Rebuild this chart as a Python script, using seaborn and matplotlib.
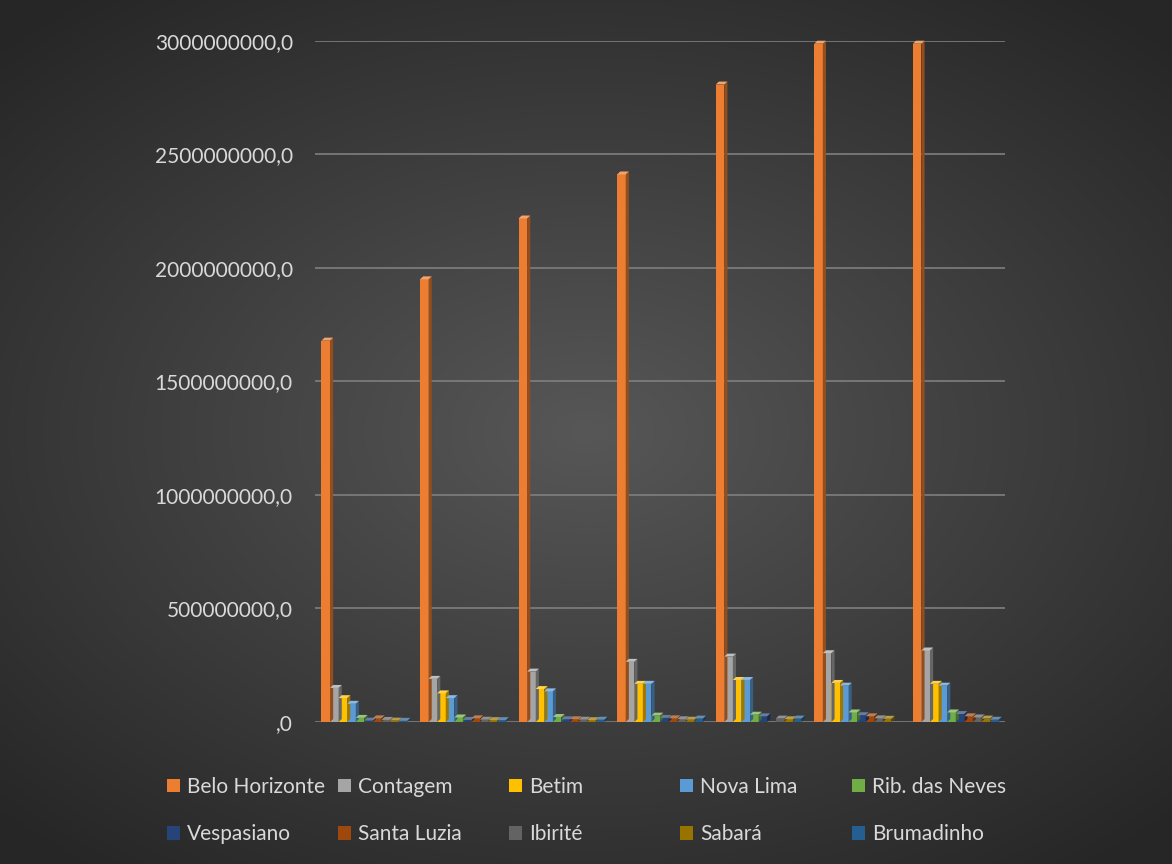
import numpy as np
import pandas as pd
import matplotlib
matplotlib.use("Agg")
import matplotlib.pyplot as plt
import seaborn as sns
from matplotlib.ticker import FuncFormatter
from matplotlib.patches import Polygon
from matplotlib.colors import to_rgb

# valores em milhões, 7 períodos (sem rótulo no eixo x)
periodos = ["1", "2", "3", "4", "5", "6", "7"]
cidades = ["Belo Horizonte", "Contagem", "Betim", "Nova Lima", "Rib. das Neves",
           "Vespasiano", "Santa Luzia", "Ibirité", "Sabará", "Brumadinho"]
belo_horizonte = [1680, 1950, 2218, 2412, 2808, 2988, 2988]
contagem = [150, 190, 222, 265, 288, 303, 315]
betim = [105, 126, 145, 168, 185, 172, 168]
nova_lima = [80, 105, 135, 168, 185, 160, 160]
rib_das_neves = [18, 20, 22, 28, 32, 42, 42]
vespasiano = [6, 9, 12, 18, 25, 30, 35]
santa_luzia = [16, 16, 12, 16, 0, 25, 25]
ibirite = [9, 10, 10, 12, 15, 16, 20]
sabara = [6, 8, 8, 10, 12, 14, 15]
brumadinho = [5, 8, 10, 15, 15, 0, 10]
cores = ["#ED7D31", "#A5A5A5", "#FFC000", "#5B9BD5", "#70AD47",
         "#264478", "#9E480E", "#636363", "#997300", "#255E91"]

series = [belo_horizonte, contagem, betim, nova_lima, rib_das_neves,
          vespasiano, santa_luzia, ibirite, sabara, brumadinho]
linhas = []
for cidade, vals in zip(cidades, series):
    for p, v in zip(periodos, vals):
        linhas.append({"Periodo": p, "Cidade": cidade, "Valor": v * 1e6})
df = pd.DataFrame(linhas)

sns.set_theme(style="dark")
plt.rcParams["font.family"] = ["Lato", "DejaVu Sans"]

fig = plt.figure(figsize=(11.72, 8.64), dpi=100)

# fundo com gradiente radial
bg = fig.add_axes([0, 0, 1, 1], zorder=-1)
yy, xx = np.mgrid[-1:1:400j, -1:1:540j]
r = np.sqrt((xx * 0.95) ** 2 + (yy * 1.05) ** 2)
r = np.clip(r / 1.35, 0, 1)
c0, c1 = np.array([0x57, 0x57, 0x57]) / 255, np.array([0x26, 0x26, 0x26]) / 255
img = c0[None, None, :] * (1 - r[..., None]) + c1[None, None, :] * r[..., None]
bg.imshow(img, aspect="auto", extent=[0, 1, 0, 1])
bg.axis("off")

ax = fig.add_axes([0.2688, 0.1644, 0.5887, 0.7882])
ax.set_facecolor("none")
sns.barplot(data=df, x="Periodo", y="Valor", hue="Cidade", palette=cores,
            width=0.87, ax=ax, saturation=1, edgecolor="none")
ax.set_ylim(0, 3e9)
ax.set_xlim(-0.5, 6.5)

# efeito 3D simples: lateral escura e topo claro
dx, dy = 0.032, 13e6
for bar in list(ax.patches):
    h = bar.get_height()
    if not h or h <= 0:
        continue
    x0, w = bar.get_x(), bar.get_width()
    c = np.array(to_rgb(bar.get_facecolor()))
    lado = Polygon([(x0 + w, 0), (x0 + w + dx, dy), (x0 + w + dx, h + dy), (x0 + w, h)],
                   closed=True, facecolor=c * 0.62, edgecolor="none", clip_on=False)
    topo = Polygon([(x0, h), (x0 + dx, h + dy), (x0 + w + dx, h + dy), (x0 + w, h)],
                   closed=True, facecolor=c + (1 - c) * 0.3, edgecolor="none", clip_on=False)
    ax.add_patch(lado)
    ax.add_patch(topo)

ax.set_yticks(np.arange(0, 3.01e9, 5e8))
ax.yaxis.set_major_formatter(FuncFormatter(lambda v, p: ",0" if v == 0 else f"{v:.0f},0"))
ax.grid(axis="y", color="#7f7f7f", linewidth=1.2)
ax.set_axisbelow(True)
ax.tick_params(axis="y", colors="#d9d9d9", labelsize=15, length=0, pad=16)
ax.set_xticks([])
ax.set_xlabel("")
ax.set_ylabel("")
for s in ax.spines.values():
    s.set_visible(False)

handles, labels = ax.get_legend_handles_labels()
ax.get_legend().remove()
col_x = [167, 338, 509, 680, 852]
for i, x in enumerate(col_x):
    hs = [handles[i], handles[i + 5]]
    ls = [labels[i], labels[i + 5]]
    fig.legend(hs, ls, loc="upper left", bbox_to_anchor=(x / 1172, 1 - 777 / 864),
               frameon=False, ncol=1, fontsize=15, labelcolor="#d9d9d9",
               handlelength=0.62, handleheight=0.62, handletextpad=0.34,
               labelspacing=1.3, borderpad=0, borderaxespad=0)

fig.savefig("out.png", dpi=100)
